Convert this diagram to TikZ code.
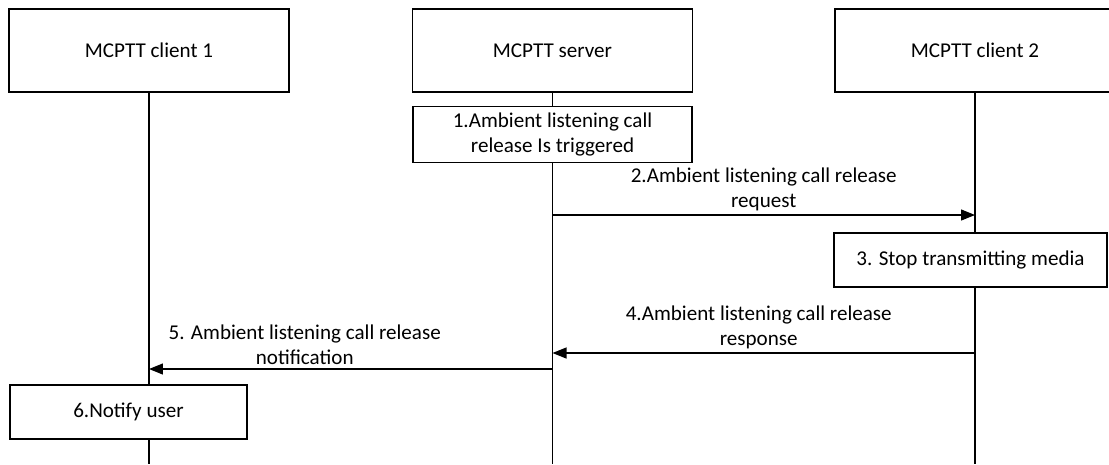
\documentclass[tikz,border=0pt]{standalone}
\usepackage{fontspec}
\setmainfont{Carlito}
\usetikzlibrary{arrows.meta,positioning}
\begin{document}
\begin{tikzpicture}[
  x=0.02cm, y=-0.02cm,
  font=\fontsize{12}{14.4}\selectfont,
  entity/.style={draw, line width=0.7pt, fill=white, minimum width=5.6cm, minimum height=1.66cm},
  action/.style={draw, line width=0.7pt, fill=white, align=center, minimum width=#1, minimum height=1.08cm},
  lifeline/.style={line width=0.7pt},
  msg/.style={line width=0.7pt, -{Triangle[length=0.28cm, width=0.22cm]}},
  msg_lbl/.style={midway, above, align=center, inner sep=2pt},
]
\useasboundingbox (0,0) rectangle (1109,464);
% Entities
\node[entity] (c1) at (149, 50.5) {MCPTT client 1};
\node[entity] (srv) at (552.5, 50.5) {MCPTT server};
\node[entity] (c2) at (975, 50.5) {MCPTT client 2};
% Lifelines
\coordinate (bot) at (0, 464);
\draw[lifeline] (c1.south) -- (c1 |- bot);
\draw[lifeline] (srv.south) -- (srv |- bot);
\draw[lifeline] (c2.south) -- (c2 |- bot);
% Step 1
\node[action=5.58cm] (trig) at (552.5, 134.5) {1.Ambient listening call\\release Is triggered};
% Step 2
\coordinate (m2) at (0, 215);
\draw[msg] (srv |- m2) -- node[msg_lbl]{2.Ambient listening call release\\request} (c2 |- m2);
% Step 3
\node[action=5.46cm] (stop) at (970.5, 260) {3. Stop transmitting media};
% Step 4
\coordinate (m4) at (0, 353);
\draw[msg] (c2 |- m4) -- node[msg_lbl, xshift=-0.1cm]{4.Ambient listening call release\\response} (srv |- m4);
% Step 5
\coordinate (m5) at (0, 369);
\draw[msg] (srv |- m5) -- node[msg_lbl, xshift=-0.92cm]{5. Ambient listening call release\\notification} (c1 |- m5);
% Step 6
\node[action=4.74cm] (notify) at (128.5, 412) {6.Notify user};
\end{tikzpicture}
\end{document}
